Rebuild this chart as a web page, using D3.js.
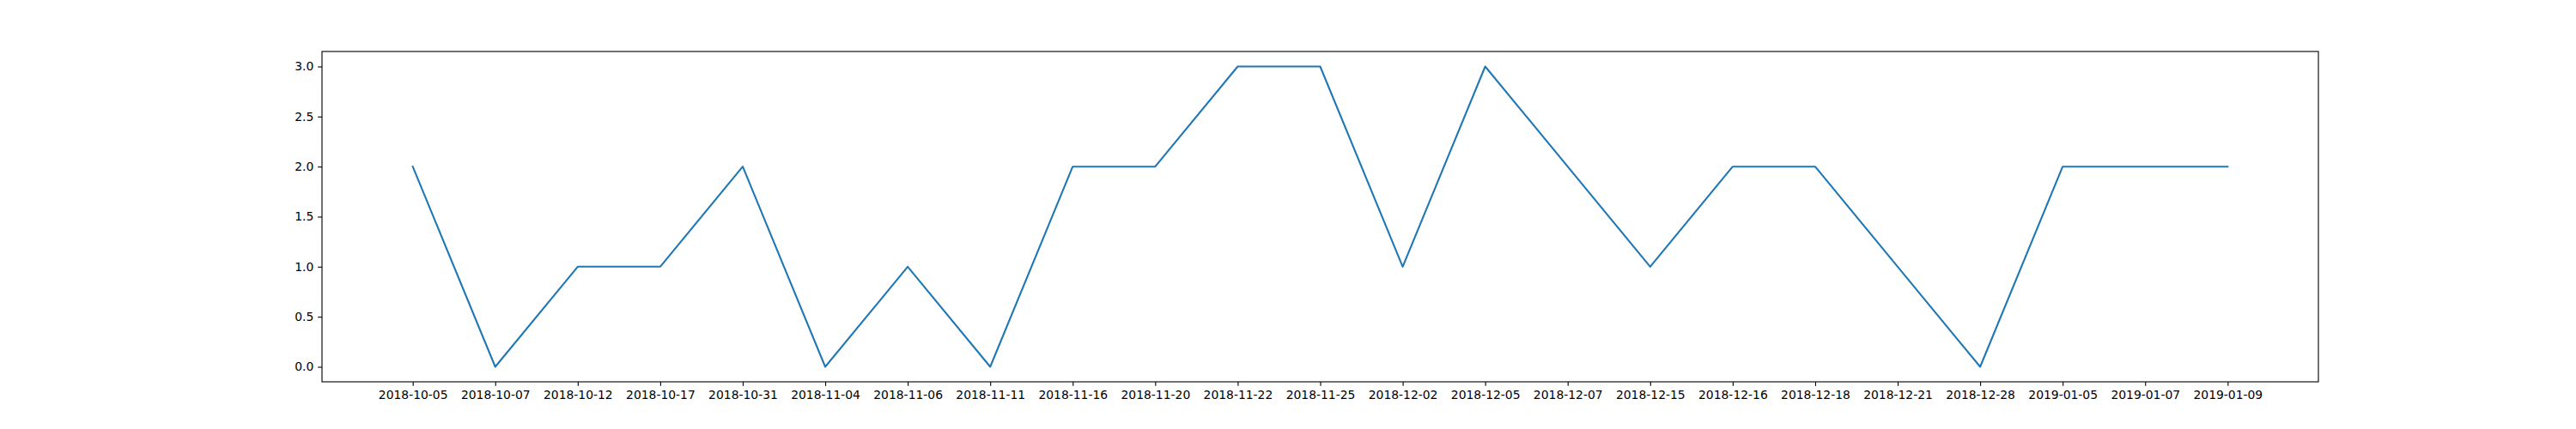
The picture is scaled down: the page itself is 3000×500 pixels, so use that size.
<!DOCTYPE html>
<html>
<head>
<meta charset="utf-8">
<script src="https://cdn.jsdelivr.net/npm/d3@7"></script>
<style>
  body { margin: 0; background: #fff; }
  text { font-family: "DejaVu Sans", sans-serif; }
</style>
</head>
<body>
<div id="chart"></div>
<script>
// Datos

const dates = ["2018-10-05", "2018-10-07", "2018-10-12", "2018-10-17", "2018-10-31",
  "2018-11-04", "2018-11-06", "2018-11-11", "2018-11-16", "2018-11-20", "2018-11-22",
  "2018-11-25", "2018-12-02", "2018-12-05", "2018-12-07", "2018-12-15", "2018-12-16",
  "2018-12-18", "2018-12-21", "2018-12-28", "2019-01-05", "2019-01-07", "2019-01-09"]
const counts = [2, 0, 1, 1, 2, 0, 1, 0, 2, 2, 3, 3, 1, 3, 2, 1, 2, 2, 1, 0, 2, 2, 2]
const yTicks = [0, 0.5, 1, 1.5, 2, 2.5, 3]

// Constantes

const width = 3000
const height = 500
const margin = { top: 60, bottom: 55, left: 375, right: 300 }
const innerW = width - margin.left - margin.right
const innerH = height - margin.top - margin.bottom
const tick = 4.86

const svg = d3.select("#chart").append("svg").attr("width", width).attr("height", height)
const g = svg.append("g").attr("transform", `translate(${margin.left},${margin.top})`)

// Escalas

const x = d3.scalePoint().domain(dates).range([0, innerW]).padding(1.1)
const y = d3.scaleLinear().domain([-0.15, 3.15]).range([innerH, 0])

// Ejes

const xAxis = d3.axisBottom(x).tickSize(tick).tickPadding(tick)
const yAxis = d3.axisLeft(y).tickValues(yTicks).tickFormat(d3.format(".1f")).tickSize(tick).tickPadding(tick)

const xAxisGroup = g.append("g").attr("transform", `translate(0,${innerH})`).call(xAxis)
const yAxisGroup = g.append("g").call(yAxis)

;[xAxisGroup, yAxisGroup].forEach(a => {
  a.select(".domain").remove()
  a.selectAll(".tick line").attr("stroke", "#000").attr("stroke-width", 1.11)
  a.selectAll(".tick text").attr("fill", "#000").style("font-size", "13.9px")
    .style("font-family", "'DejaVu Sans', sans-serif")
})

// Línea

const line = d3.line()
  .x((d, i) => x(dates[i]))
  .y(d => y(d))

g.append("path")
  .datum(counts)
  .attr("fill", "none")
  .attr("stroke", "#1f77b4")
  .attr("stroke-width", 2.08)
  .attr("stroke-linejoin", "round")
  .attr("stroke-linecap", "square")
  .attr("d", line)

// Marco

g.append("rect")
  .attr("width", innerW)
  .attr("height", innerH)
  .attr("fill", "none")
  .attr("stroke", "#000")
  .attr("stroke-width", 1.11)
</script>
</body>
</html>
